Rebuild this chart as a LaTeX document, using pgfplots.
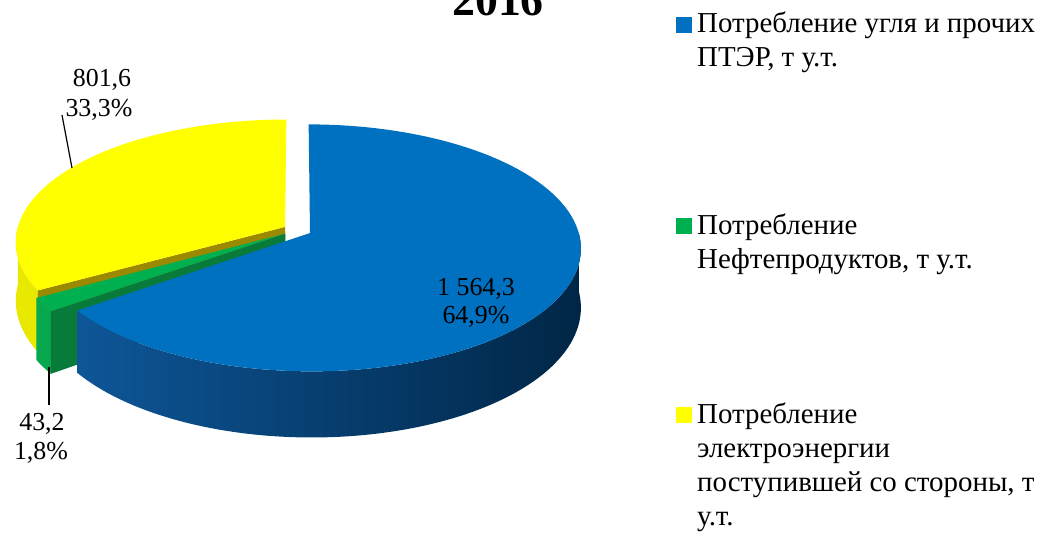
\documentclass[border=0pt]{standalone}
\usepackage{fontspec}
\setmainfont{Liberation Serif}
\usepackage{pgfplots}
\pgfplotsset{compat=1.18}
\usepackage{pgfplotstable}

\definecolor{cBlueTop}{RGB}{0,112,192}
\definecolor{cBlueSideL}{RGB}{14,86,152}
\definecolor{cBlueSideR}{RGB}{0,38,70}
\definecolor{cGreenTop}{RGB}{0,176,80}
\definecolor{cGreenSide}{RGB}{8,168,78}
\definecolor{cGreenCut}{RGB}{8,122,58}
\definecolor{cYelTop}{RGB}{255,255,0}
\definecolor{cYelSide}{RGB}{232,232,0}
\definecolor{cYelCut}{RGB}{155,138,0}

% values, t u.t.
\pgfplotstableread{
name value
coal 1564.3
oil 43.2
elec 801.6
}\piedata

\pgfplotstablegetelem{0}{value}\of\piedata \let\vA\pgfplotsretval
\pgfplotstablegetelem{1}{value}\of\piedata \let\vB\pgfplotsretval
\pgfplotstablegetelem{2}{value}\of\piedata \let\vC\pgfplotsretval
\pgfmathsetmacro\tot{\vA+\vB+\vC}
\pgfmathsetmacro\spA{\vA/\tot*360}
\pgfmathsetmacro\spB{\vB/\tot*360}
% blue (coal): clockwise from the top
\pgfmathsetmacro\bL{90-\spA}
\pgfmathsetmacro\bH{90}
\pgfmathsetmacro\bM{90-\spA/2}
% green (oil)
\pgfmathsetmacro\gH{450-\spA}
\pgfmathsetmacro\gL{450-\spA-\spB}
\pgfmathsetmacro\gM{450-\spA-\spB/2}
% yellow (electricity)
\pgfmathsetmacro\yL{90}
\pgfmathsetmacro\yH{450-\spA-\spB}
\pgfmathsetmacro\yM{(\yL+\yH)/2}

\tikzset{lbl/.style={font=\fontsize{26}{29}\selectfont, inner sep=0pt},
         leg/.style={font=\fontsize{29}{34}\selectfont, inner sep=0pt, anchor=base west}}

\begin{document}
\begin{tikzpicture}[declare function={
  PX(\u,\v)=297.3+268*\u/(1+0.12*\v);
  PY(\u,\v,\z)=230.1+(-121*\v+58*\z)/(1+0.12*\v);
  aa(\q,\aL,\aH)=\aL+(\aH-\aL)*min(max(\q,0),100)/100;
  rr(\q)=(\q>-0.5)*(\q<100.5);
  ff(\q,\aL,\aH)=(\q<100.5)*(\aL+(\aH-\aL)*\q/100)+(\q>100.5)*(\aH-(\aH-\aL)*(\q-101)/100);
  zz(\q)=(\q>100.5);
  rq(\q)=(\q>0.5)*(\q<2.5);
  zq(\q)=(\q>1.5);
}]
\begin{axis}[
  at={(0,0)}, anchor=south west,
  width=1048bp, height=537bp, scale only axis,
  xmin=0, xmax=1048, ymin=0, ymax=537, y dir=reverse,
  hide axis, clip=false,
]
% ---- yellow slice (exploded 0.053) ----
\addplot[fill=cYelSide, draw=none, samples at={0,1,...,201}]
 ({PX(cos(ff(\x,180,\yH))+0.053*cos(\yM), sin(ff(\x,180,\yH))+0.053*sin(\yM))},
  {PY(cos(ff(\x,180,\yH))+0.053*cos(\yM), sin(ff(\x,180,\yH))+0.053*sin(\yM), zz(\x))});
\addplot[fill=cYelCut, draw=none, samples at={0,1,2,3}]
 ({PX(rq(\x)*cos(\yH)+0.053*cos(\yM), rq(\x)*sin(\yH)+0.053*sin(\yM))},
  {PY(rq(\x)*cos(\yH)+0.053*cos(\yM), rq(\x)*sin(\yH)+0.053*sin(\yM), zq(\x))});
\addplot[fill=cYelTop, draw=none, samples at={-1,0,1,...,100,101}]
 ({PX(rr(\x)*cos(aa(\x,\yL,\yH))+0.053*cos(\yM), rr(\x)*sin(aa(\x,\yL,\yH))+0.053*sin(\yM))},
  {PY(rr(\x)*cos(aa(\x,\yL,\yH))+0.053*cos(\yM), rr(\x)*sin(aa(\x,\yL,\yH))+0.053*sin(\yM), 0)});
% ---- green slice ----
\addplot[fill=cGreenSide, draw=none, samples at={0,1,...,201}]
 ({PX(cos(ff(\x,\gL,\gH))+0.053*cos(\gM), sin(ff(\x,\gL,\gH))+0.053*sin(\gM))},
  {PY(cos(ff(\x,\gL,\gH))+0.053*cos(\gM), sin(ff(\x,\gL,\gH))+0.053*sin(\gM), zz(\x))});
\addplot[fill=cGreenCut, draw=none, samples at={0,1,2,3}]
 ({PX(rq(\x)*cos(\gH)+0.053*cos(\gM), rq(\x)*sin(\gH)+0.053*sin(\gM))},
  {PY(rq(\x)*cos(\gH)+0.053*cos(\gM), rq(\x)*sin(\gH)+0.053*sin(\gM), zq(\x))});
\addplot[fill=cGreenTop, draw=none, samples at={-1,0,1,...,100,101}]
 ({PX(rr(\x)*cos(aa(\x,\gL,\gH))+0.053*cos(\gM), rr(\x)*sin(aa(\x,\gL,\gH))+0.053*sin(\gM))},
  {PY(rr(\x)*cos(aa(\x,\gL,\gH))+0.053*cos(\gM), rr(\x)*sin(aa(\x,\gL,\gH))+0.053*sin(\gM), 0)});
% ---- blue slice ----
\addplot[left color=cBlueSideL, right color=cBlueSideR, draw=none, samples at={0,1,...,201}]
 ({PX(cos(ff(\x,\bL,0))+0.053*cos(\bM), sin(ff(\x,\bL,0))+0.053*sin(\bM))},
  {PY(cos(ff(\x,\bL,0))+0.053*cos(\bM), sin(ff(\x,\bL,0))+0.053*sin(\bM), zz(\x))});
\addplot[fill=cBlueTop, draw=none, samples at={-1,0,1,...,100,101}]
 ({PX(rr(\x)*cos(aa(\x,\bL,\bH))+0.053*cos(\bM), rr(\x)*sin(aa(\x,\bL,\bH))+0.053*sin(\bM))},
  {PY(rr(\x)*cos(aa(\x,\bL,\bH))+0.053*cos(\bM), rr(\x)*sin(aa(\x,\bL,\bH))+0.053*sin(\bM), 0)});

% ---- title ----
\node[anchor=base, font=\bfseries\fontsize{46}{46}\selectfont] at (axis cs:498,16) {2016};

% ---- data labels ----
\node[lbl, anchor=base] at (axis cs:102,87) {801,6};
\node[lbl, anchor=base] at (axis cs:99,117) {33,3\%};
\node[lbl, anchor=base] at (axis cs:476,295) {1~564,3};
\node[lbl, anchor=base] at (axis cs:476,323) {64,9\%};
\node[lbl, anchor=base] at (axis cs:42,430) {43,2};
\node[lbl, anchor=base] at (axis cs:41,459) {1,8\%};
\draw[line width=1.2bp] (axis cs:62,115) -- (axis cs:72,168);
\draw[line width=1.2bp] (axis cs:49,367) -- (axis cs:49,405);

% ---- legend ----
\fill[cBlueTop] (axis cs:676,17) rectangle (axis cs:692,33);
\fill[cGreenTop] (axis cs:676,218) rectangle (axis cs:692,234);
\fill[cYelTop] (axis cs:676,407) rectangle (axis cs:692,423);
\node[leg] at (axis cs:697,33) {Потребление угля и прочих};
\node[leg] at (axis cs:697,67) {ПТЭР, т у.т.};
\node[leg] at (axis cs:697,234) {Потребление};
\node[leg] at (axis cs:697,268) {Нефтепродуктов, т у.т.};
\node[leg] at (axis cs:697,423) {Потребление};
\node[leg] at (axis cs:697,457) {электроэнергии};
\node[leg] at (axis cs:697,491) {поступившей со стороны, т};
\node[leg] at (axis cs:697,525) {у.т.};
\end{axis}
\pgfresetboundingbox
\path[use as bounding box] (0,0) rectangle (1048bp,537bp);
\end{tikzpicture}
\end{document}
